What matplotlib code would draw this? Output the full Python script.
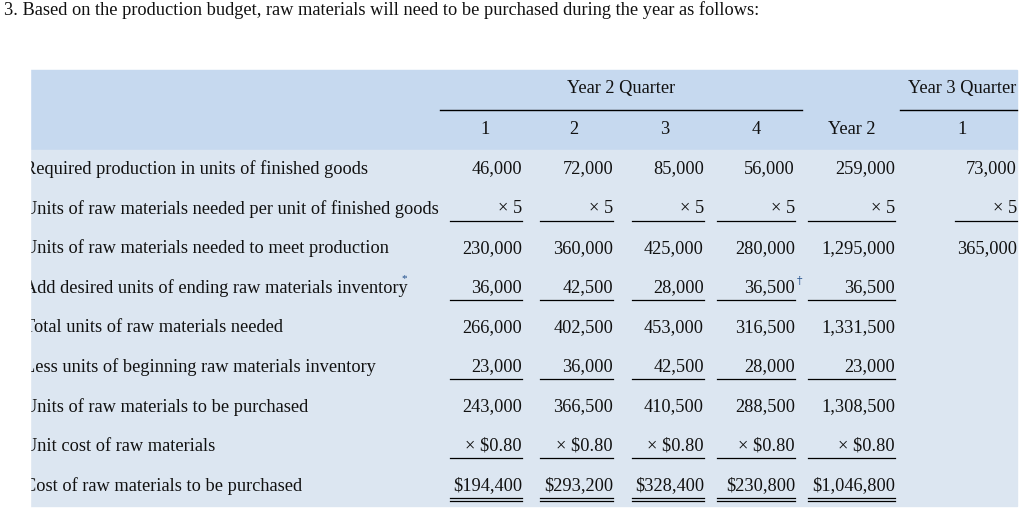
import matplotlib
matplotlib.use("Agg")
import matplotlib.pyplot as plt
from matplotlib.patches import Rectangle

row_labels = ["Required production in units of finished goods",
              "Units of raw materials needed per unit of finished goods",
              "Units of raw materials needed to meet production",
              "Add desired units of ending raw materials inventory",
              "Total units of raw materials needed",
              "Less units of beginning raw materials inventory",
              "Units of raw materials to be purchased",
              "Unit cost of raw materials",
              "Cost of raw materials to be purchased"]
col_heads = ["1", "2", "3", "4", "Year 2", "1"]
q1 = ["46,000", "× 5", "230,000", "36,000", "266,000", "23,000", "243,000", "× $0.80", "$194,400"]
q2 = ["72,000", "× 5", "360,000", "42,500", "402,500", "36,000", "366,500", "× $0.80", "$293,200"]
q3 = ["85,000", "× 5", "425,000", "28,000", "453,000", "42,500", "410,500", "× $0.80", "$328,400"]
q4 = ["56,000", "× 5", "280,000", "36,500", "316,500", "28,000", "288,500", "× $0.80", "$230,800"]
yr2 = ["259,000", "× 5", "1,295,000", "36,500", "1,331,500", "23,000", "1,308,500", "× $0.80", "$1,046,800"]
y3q1 = ["73,000", "× 5", "365,000", "", "", "", "", "", ""]
underline = [0, 1, 0, 1, 0, 1, 0, 1, 2]

fig = plt.figure(figsize=(10.24, 5.13), dpi=100)
ax = fig.add_axes([0, 0, 1, 1])
ax.set_xlim(0, 1024); ax.set_ylim(513, 0); ax.axis("off")
F = dict(family="Liberation Serif", fontsize=13.2, color="#111111")

ax.text(4, 10, "3. Based on the production budget, raw materials will need to be purchased during the year as follows:", va="center", **F)
ax.add_patch(Rectangle((30, 70), 987, 80, color="#c6d9ef", zorder=0))
ax.add_patch(Rectangle((30, 150), 987, 356, color="#dce6f1", zorder=0))

ax.text(621, 89, "Year 2 Quarter", ha="center", va="center", **F)
ax.plot([440, 802], [110, 110], color="k", lw=1)
ax.text(908, 89, "Year 3 Quarter", ha="left", va="center", **F)
ax.plot([900, 1017], [110, 110], color="k", lw=1)
head_x = [485, 574, 665, 756, 852, 962]
for x, h in zip(head_x, col_heads):
    ax.text(x, 129, h, ha="center", va="center", **F)

rows_y = [169 + 39.6 * i for i in range(9)]
cols = [q1, q2, q3, q4, yr2, y3q1]
right = [522, 613, 704, 795, 895, 1017]
left = [450, 540, 632, 717, 808, 955]
for i, (lab, y) in enumerate(zip(row_labels, rows_y)):
    ax.text(24, y, lab, ha="left", va="center", **F)
    if i == 3:
        ax.text(401, y - 9, "*", ha="left", va="center", family="Liberation Serif", fontsize=8, color="#1f4e8c")
    for c, (vals, xr, xl) in enumerate(zip(cols, right, left)):
        v = vals[i]
        if not v:
            continue
        ax.text(xr, y, v, ha="right", va="center", **F)
        if i == 3 and c == 3:
            ax.text(xr - 46, y - 1, "36,500", ha="right", va="center", alpha=0, **F)
        if underline[i] >= 1:
            ax.plot([xl, xr], [y + 12, y + 12], color="k", lw=0.9)
        if underline[i] == 2:
            ax.plot([xl, xr], [y + 15, y + 15], color="k", lw=0.9)
    if i == 3:
        ax.text(797, y - 7, "†", ha="left", va="center", family="DejaVu Serif", fontsize=8, color="#1f4e8c")
ax.add_patch(Rectangle((0, 60), 30, 453, color="white", zorder=5))
fig.savefig("out.png", dpi=100, facecolor="white")
